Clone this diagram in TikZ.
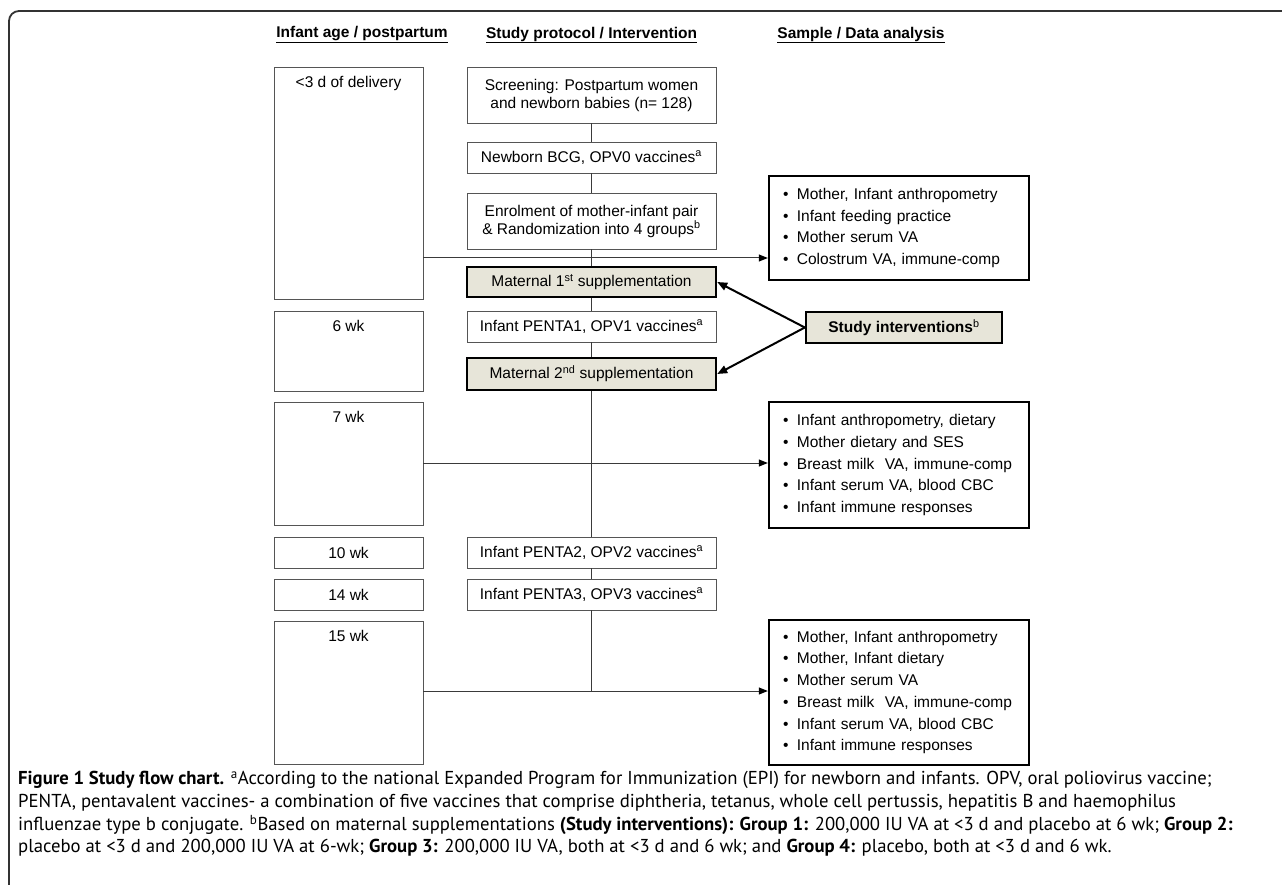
\documentclass[tikz,border=0pt]{standalone}
\usepackage{fontspec}
\setmainfont{Liberation Sans}
\newfontfamily\capfont{PT Sans}
\usetikzlibrary{arrows.meta,calc}
\definecolor{boxgray}{HTML}{555555}
\definecolor{linegray}{HTML}{3A3A3A}
\definecolor{beige}{HTML}{E7E5D9}
\definecolor{framegray}{HTML}{333333}
\newcommand{\bl}{\textbullet\hspace{8.5pt}}
\begin{document}
\begin{tikzpicture}[x=1pt,y=-1pt,
  font=\fontsize{15.5}{18}\selectfont,
  thinbox/.style={draw=boxgray, line width=0.9pt, inner sep=2pt, align=center},
  tbox/.style={draw=black, line width=2.4pt, fill=beige, inner sep=2pt, align=center},
  databox/.style={draw=black, line width=2.4pt, align=left, inner xsep=14pt,
    text width=232pt, minimum width=260pt, font=\fontsize{15.5}{21.7}\selectfont},
  toplabel/.style={anchor=north, inner sep=0pt, yshift=-10pt},
  conn/.style={draw=linegray, line width=1pt},
  darr/.style={conn, -{Triangle[length=9pt,width=7pt,color=black]}},
  iarr/.style={draw=black, line width=2pt, -{Triangle[length=10pt,width=8pt]}},
  hdr/.style={inner sep=0pt, font=\fontsize{15.5}{18}\selectfont\bfseries},
  captext/.style={anchor=west, inner sep=0pt, font=\capfont\fontsize{18.7}{22}\selectfont}
]
\useasboundingbox (0,0) rectangle (1282,885);
% outer frame
\draw[framegray, line width=1.8pt, rounded corners=10pt] (9,885) -- (9,11) -- (1282,11);

% headers
\node[hdr] (h1) at (362,35) {\underline{Infant age / postpartum}};
\node[hdr] (h2) at (591.5,35) {\underline{Study protocol / Intervention}};
\node[hdr] (h3) at (861,35) {\underline{Sample / Data analysis}};

% left column
\node[thinbox, minimum width=149pt, minimum height=232pt, label={[toplabel]north:{<3 d of delivery}}] (a1) at (348.5,183) {};
\node[thinbox, minimum width=149pt, minimum height=80pt, label={[toplabel]north:{6 wk}}] (a2) at (348.5,351) {};
\node[thinbox, minimum width=149pt, minimum height=123pt, label={[toplabel]north:{7 wk}}] (a3) at (348.5,463.5) {};
\node[thinbox, minimum width=149pt, minimum height=31pt] (a4) at (348.5,552.5) {10 wk};
\node[thinbox, minimum width=149pt, minimum height=31pt] (a5) at (348.5,594.5) {14 wk};
\node[thinbox, minimum width=149pt, minimum height=143pt, label={[toplabel]north:{15 wk}}] (a6) at (348.5,692.5) {};

% middle column
\node[thinbox, minimum width=249pt, minimum height=56pt] (s1) at (591.5,95) {Screening: Postpartum women\\and newborn babies (n= 128)};
\node[thinbox, minimum width=249pt, minimum height=31pt] (s2) at (591.5,157.5) {Newborn BCG, OPV0 vaccines\textsuperscript{a}};
\node[thinbox, minimum width=249pt, minimum height=56pt] (s3) at (591.5,221) {Enrolment of mother-infant pair\\\& Randomization into 4 groups\textsuperscript{b}};
\node[tbox, minimum width=249pt, minimum height=30pt] (m1) at (591.5,282) {Maternal 1\textsuperscript{st} supplementation};
\node[thinbox, minimum width=249pt, minimum height=31pt] (s4) at (591.5,326.5) {Infant PENTA1, OPV1 vaccines\textsuperscript{a}};
\node[tbox, minimum width=249pt, minimum height=32pt] (m2) at (591.5,374) {Maternal 2\textsuperscript{nd} supplementation};
\node[thinbox, minimum width=249pt, minimum height=31pt] (s5) at (591.5,552.5) {Infant PENTA2, OPV2 vaccines\textsuperscript{a}};
\node[thinbox, minimum width=249pt, minimum height=31pt] (s6) at (591.5,594.5) {Infant PENTA3, OPV3 vaccines\textsuperscript{a}};

% study interventions
\node[tbox, minimum width=196pt, minimum height=31pt, font=\fontsize{15.5}{18}\selectfont\bfseries] (si) at (904,327.5) {Study interventions\textsuperscript{\mdseries b}};

% data boxes
\node[databox, minimum height=104pt] (d1) at (899,228) {\bl Mother, Infant anthropometry\\\bl Infant feeding practice\\\bl Mother serum VA\\\bl Colostrum VA, immune-comp};
\node[databox, minimum height=126pt] (d2) at (899,465) {\bl Infant anthropometry, dietary\\\bl Mother dietary and SES\\\bl Breast milk\ \ VA, immune-comp\\\bl Infant serum VA, blood CBC\\\bl Infant immune responses};
\node[databox, minimum height=145pt] (d3) at (899,692.5) {\bl Mother, Infant anthropometry\\\bl Mother, Infant dietary\\\bl Mother serum VA\\\bl Breast milk\ \ VA, immune-comp\\\bl Infant serum VA, blood CBC\\\bl Infant immune responses};

% vertical connectors
\draw[conn] (s1.south) -- (s2.north);
\draw[conn] (s2.south) -- (s3.north);
\draw[conn] (s3.south) -- (m1.north);
\draw[conn] (m1.south) -- (s4.north);
\draw[conn] (s4.south) -- (m2.north);
\draw[conn] (m2.south) -- (s5.north);
\draw[conn] (s5.south) -- (s6.north);
\coordinate (y3) at (0,691);
\draw[conn] (s6.south) -- (s6.south |- y3);

% horizontal arrows to data
\coordinate (y1) at (0,258);
\coordinate (y2) at (0,463);
\draw[darr] (a1.east |- y1) -- (d1.west |- y1);
\draw[darr] (a3.east |- y2) -- (d2.west |- y2);
\draw[darr] (a6.east |- y3) -- (d3.west |- y3);

% intervention arrows
\draw[iarr] (si.west) -- (m1.east);
\draw[iarr] (si.west) -- (m2.east);

% caption
\node[captext] (c1) at (18,780) {\textbf{Figure 1 Study flow chart.} \textsuperscript{a}According to the national Expanded Program for Immunization (EPI) for newborn and infants. OPV, oral poliovirus vaccine;};
\node[captext] (c2) at (18,802.5) {PENTA, pentavalent vaccines- a combination of five vaccines that comprise diphtheria, tetanus, whole cell pertussis, hepatitis B and haemophilus};
\node[captext] (c3) at (18,825) {influenzae type b conjugate. \textsuperscript{b}Based on maternal supplementations \textbf{(Study interventions): Group 1:} 200,000 IU VA at <3 d and placebo at 6 wk; \textbf{Group 2:}};
\node[captext] (c4) at (18,847.5) {placebo at <3 d and 200,000 IU VA at 6-wk; \textbf{Group 3:} 200,000 IU VA, both at <3 d and 6 wk; and \textbf{Group 4:} placebo, both at <3 d and 6 wk.};
\end{tikzpicture}
\end{document}
